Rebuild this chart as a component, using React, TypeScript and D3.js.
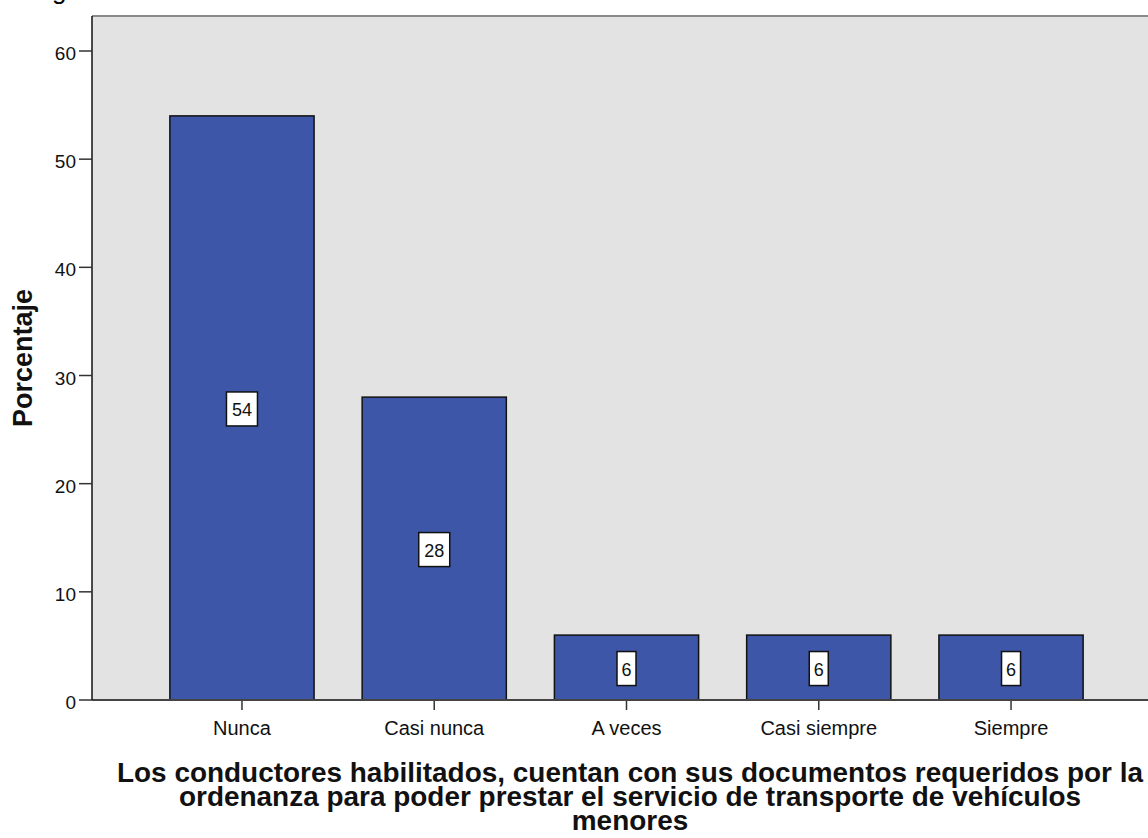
import React from "react";
import * as d3 from "d3";

const categories = ["Nunca", "Casi nunca", "A veces", "Casi siempre", "Siempre"];
const values = [54, 28, 6, 6, 6];
const yTicks = [0, 10, 20, 30, 40, 50, 60];
const xTitleLines = [
  "Los conductores habilitados, cuentan con sus documentos requeridos por la",
  "ordenanza para poder prestar el servicio de transporte de vehículos",
  "menores",
];

const W = 1148;
const H = 838;
const font = "Arial, 'Liberation Sans', sans-serif";

const App: React.FC = () => {
  const left = 92;
  const top = 16;
  const bottom = 700;
  const right = 1161;

  const x = d3.scaleBand<string>().domain(categories).range([left, right]).paddingInner(0.25).paddingOuter(0.405);
  const y = d3.scaleLinear().domain([0, 60]).range([bottom, 51]);

  return (
    <svg width={W} height={H} style={{ position: "absolute", left: 0, top: 0 }} fontFamily={font}>
      <rect x={0} y={0} width={W} height={H} fill="#fff" />
      <text x={52} y={-1} fontSize={26} fill="#000">g</text>
      <rect x={left} y={top} width={right - left} height={bottom - top} fill="#e3e3e3" />
      <line x1={left} x2={right} y1={top} y2={top} stroke="#8a8a8a" strokeWidth={2} />

      {categories.map((c, i) => {
        const bx = x(c)!;
        const bw = x.bandwidth();
        const v = values[i];
        const cy = y(v / 2);
        const label = String(v);
        const boxW = label.length === 1 ? 19 : 31;
        return (
          <g key={c}>
            <rect x={bx} y={y(v)} width={bw} height={bottom - y(v)} fill="#3d56a8" stroke="#111" strokeWidth={1.5} />
            <rect x={bx + bw / 2 - boxW / 2} y={cy - 16} width={boxW} height={34} fill="#fff" stroke="#111" strokeWidth={1.5} />
            <text x={bx + bw / 2} y={cy + 8} textAnchor="middle" fontSize={18} fill="#111">{label}</text>
            <line x1={bx + bw / 2} x2={bx + bw / 2} y1={bottom} y2={bottom + 10} stroke="#333" strokeWidth={1.5} />
            <text x={bx + bw / 2} y={735} textAnchor="middle" fontSize={20} fill="#111">{c}</text>
          </g>
        );
      })}

      <line x1={left} x2={right} y1={bottom} y2={bottom} stroke="#444" strokeWidth={2} />
      <line x1={left} x2={left} y1={top} y2={bottom} stroke="#111" strokeWidth={1.5} />

      {yTicks.map((t) => (
        <g key={t}>
          <line x1={left - 13} x2={left} y1={y(t)} y2={y(t)} stroke="#333" strokeWidth={1.5} />
          <text x={76} y={y(t) + 9} textAnchor="end" fontSize={19} fill="#111">{t}</text>
        </g>
      ))}

      <text transform={`translate(32,358) rotate(-90)`} textAnchor="middle" fontSize={27} fontWeight="bold" fill="#111">
        Porcentaje
      </text>

      {xTitleLines.map((l, i) => (
        <text key={i} transform={`translate(630,${782 + i * 24}) scale(1.035,1)`} textAnchor="middle" fontSize={27} fontWeight="bold" fill="#111">
          {l}
        </text>
      ))}
    </svg>
  );
};

export default App;
